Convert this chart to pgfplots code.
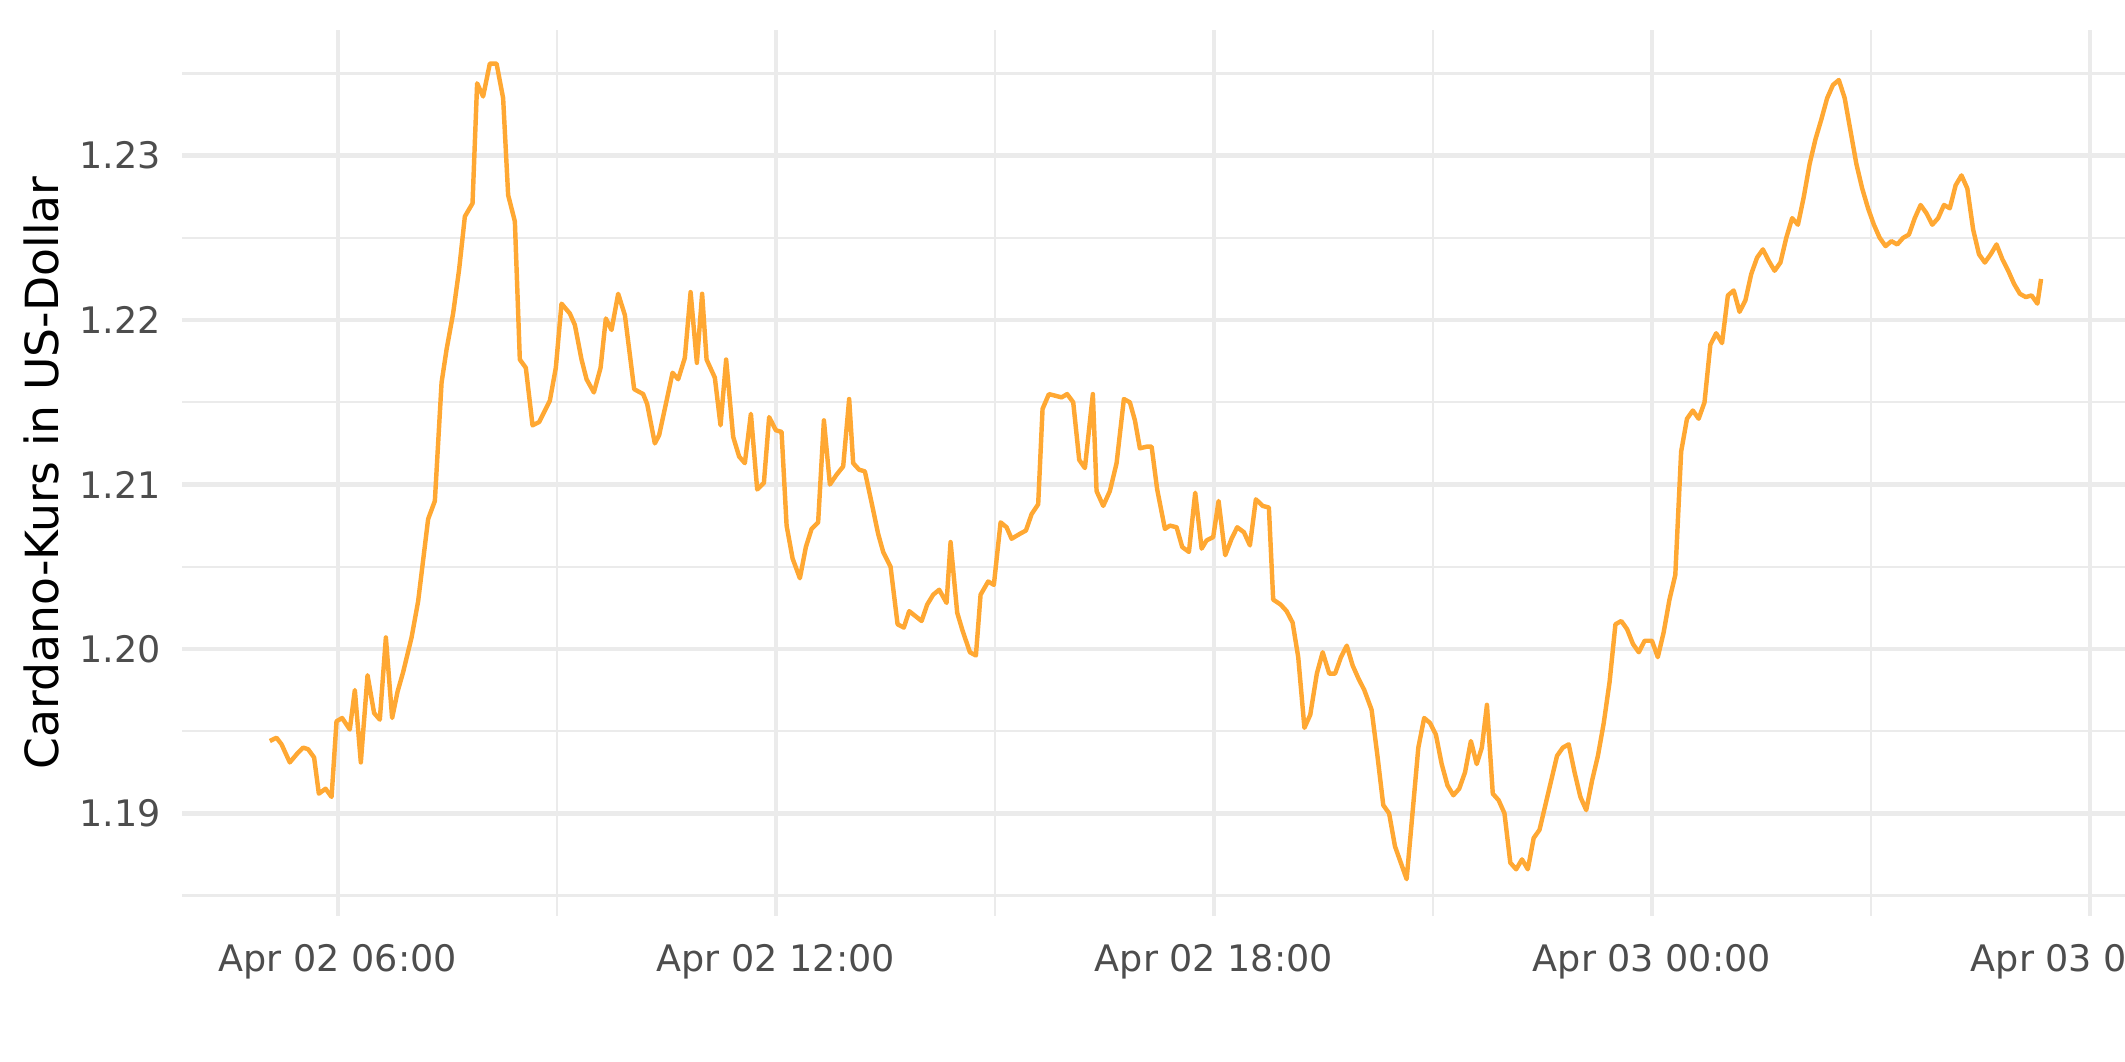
\documentclass[border=0pt]{standalone}
\usepackage{pgfplots}
\pgfplotsset{compat=1.18}
\usepackage{fontspec}
\setmainfont{DejaVu Sans}
\definecolor{linecol}{HTML}{FFA833}
\definecolor{gridcol}{HTML}{EBEBEB}
\definecolor{tickcol}{HTML}{4D4D4D}

% hours since Apr 02 00:00, ADA price in USD
\pgfplotstableread{
t v
5.068 1.1944
5.160 1.1946
5.229 1.1942
5.342 1.1931
5.456 1.1937
5.525 1.1940
5.593 1.1939
5.675 1.1934
5.740 1.1912
5.832 1.1915
5.914 1.1910
5.982 1.1956
6.059 1.1958
6.164 1.1951
6.233 1.1975
6.315 1.1931
6.407 1.1984
6.497 1.1961
6.575 1.1957
6.658 1.2007
6.744 1.1958
6.818 1.1974
6.895 1.1986
7.010 1.2007
7.100 1.2029
7.237 1.2079
7.329 1.2090
7.421 1.2162
7.489 1.2182
7.579 1.2204
7.662 1.2231
7.740 1.2263
7.845 1.2271
7.908 1.2344
7.990 1.2336
8.082 1.2356
8.174 1.2356
8.264 1.2335
8.333 1.2276
8.425 1.2260
8.493 1.2176
8.575 1.2171
8.667 1.2136
8.758 1.2138
8.904 1.2151
8.986 1.2171
9.064 1.2210
9.178 1.2204
9.247 1.2197
9.338 1.2176
9.407 1.2164
9.507 1.2156
9.599 1.2171
9.671 1.2201
9.749 1.2194
9.840 1.2216
9.932 1.2203
10.059 1.2158
10.182 1.2155
10.237 1.2149
10.342 1.2125
10.401 1.2130
10.503 1.2151
10.585 1.2168
10.662 1.2164
10.753 1.2177
10.832 1.2217
10.918 1.2174
10.990 1.2216
11.051 1.2176
11.164 1.2165
11.242 1.2136
11.319 1.2176
11.415 1.2129
11.497 1.2117
11.575 1.2113
11.658 1.2143
11.744 1.2097
11.836 1.2101
11.908 1.2141
12.000 1.2133
12.078 1.2132
12.147 1.2075
12.229 1.2055
12.329 1.2043
12.411 1.2062
12.489 1.2073
12.579 1.2077
12.658 1.2139
12.740 1.2100
12.832 1.2106
12.922 1.2111
13.004 1.2152
13.059 1.2113
13.141 1.2109
13.219 1.2108
13.311 1.2089
13.401 1.2070
13.470 1.2059
13.571 1.2050
13.667 1.2015
13.753 1.2013
13.826 1.2023
13.996 1.2017
14.073 1.2027
14.155 1.2033
14.237 1.2036
14.338 1.2028
14.393 1.2065
14.484 1.2022
14.558 1.2011
14.658 1.1998
14.740 1.1996
14.804 1.2033
14.908 1.2041
14.986 1.2039
15.078 1.2077
15.160 1.2074
15.229 1.2067
15.342 1.2070
15.425 1.2072
15.503 1.2082
15.593 1.2088
15.653 1.2146
15.740 1.2155
15.914 1.2153
15.990 1.2155
16.073 1.2150
16.155 1.2115
16.233 1.2110
16.342 1.2155
16.393 1.2096
16.484 1.2087
16.575 1.2096
16.667 1.2113
16.767 1.2152
16.849 1.2150
16.918 1.2139
16.986 1.2122
17.078 1.2123
17.147 1.2123
17.223 1.2097
17.329 1.2073
17.397 1.2075
17.489 1.2074
17.566 1.2062
17.658 1.2059
17.744 1.2095
17.832 1.2061
17.900 1.2066
17.990 1.2068
18.064 1.2090
18.155 1.2057
18.242 1.2067
18.319 1.2074
18.411 1.2071
18.493 1.2063
18.575 1.2091
18.667 1.2087
18.753 1.2086
18.812 1.2030
18.914 1.2027
18.996 1.2023
19.078 1.2016
19.155 1.1995
19.240 1.1952
19.320 1.1960
19.410 1.1985
19.490 1.1998
19.580 1.1985
19.660 1.1985
19.740 1.1995
19.820 1.2002
19.900 1.1990
19.980 1.1982
20.060 1.1975
20.160 1.1963
20.240 1.1935
20.320 1.1905
20.400 1.1900
20.480 1.1880
20.560 1.1870
20.640 1.1860
20.720 1.1900
20.800 1.1940
20.880 1.1958
20.960 1.1955
21.040 1.1948
21.120 1.1930
21.200 1.1917
21.280 1.1911
21.360 1.1915
21.440 1.1925
21.520 1.1944
21.600 1.1930
21.670 1.1940
21.740 1.1966
21.820 1.1912
21.900 1.1908
21.980 1.1900
22.060 1.1870
22.140 1.1866
22.220 1.1872
22.300 1.1866
22.380 1.1885
22.460 1.1890
22.540 1.1905
22.620 1.1920
22.700 1.1935
22.780 1.1940
22.860 1.1942
22.940 1.1925
23.020 1.1910
23.100 1.1902
23.180 1.1920
23.260 1.1935
23.340 1.1955
23.420 1.1980
23.500 1.2015
23.580 1.2017
23.660 1.2012
23.740 1.2003
23.820 1.1998
23.900 1.2005
24.000 1.2005
24.080 1.1995
24.160 1.2010
24.240 1.2030
24.320 1.2045
24.400 1.2120
24.480 1.2140
24.560 1.2145
24.640 1.2140
24.720 1.2150
24.800 1.2185
24.880 1.2192
24.960 1.2186
25.040 1.2215
25.120 1.2218
25.200 1.2205
25.280 1.2212
25.360 1.2228
25.440 1.2238
25.520 1.2243
25.600 1.2236
25.680 1.2230
25.760 1.2235
25.840 1.2250
25.920 1.2262
26.000 1.2258
26.080 1.2275
26.160 1.2295
26.240 1.2310
26.320 1.2322
26.400 1.2335
26.480 1.2343
26.560 1.2346
26.640 1.2335
26.720 1.2315
26.800 1.2295
26.880 1.2280
26.960 1.2268
27.040 1.2258
27.120 1.2250
27.200 1.2245
27.280 1.2248
27.360 1.2246
27.440 1.2250
27.520 1.2252
27.600 1.2262
27.680 1.2270
27.760 1.2265
27.840 1.2258
27.920 1.2262
28.000 1.2270
28.080 1.2268
28.160 1.2282
28.240 1.2288
28.320 1.2280
28.400 1.2255
28.480 1.2240
28.560 1.2235
28.640 1.2240
28.720 1.2246
28.800 1.2237
28.880 1.2230
28.960 1.2222
29.040 1.2216
29.120 1.2214
29.200 1.2215
29.280 1.2210
29.330 1.2225
}\ada

\begin{document}
\begin{tikzpicture}
\begin{axis}[
  scale only axis,
  width=469.3pt,
  height=213.5pt,
  xmin=3.863, xmax=30.548,
  ymin=1.18375, ymax=1.23765,
  axis line style={draw=none},
  tick style={draw=none},
  xtick={6,12,18,24,30},
  xticklabels={Apr 02 06:00,Apr 02 12:00,Apr 02 18:00,Apr 03 00:00,Apr 03 06:00},
  minor xtick={9,15,21,27},
  ytick={1.19,1.20,1.21,1.22,1.23},
  yticklabels={1.19,1.20,1.21,1.22,1.23},
  minor ytick={1.185,1.195,1.205,1.215,1.225,1.235},
  grid=both,
  major grid style={draw=gridcol, line width=1.07pt},
  minor grid style={draw=gridcol, line width=0.53pt},
  ticklabel style={font=\fontsize{8.8}{10}\selectfont, text=tickcol, inner sep=0pt},
  xticklabel shift=6.5pt,
  yticklabel shift=4.9pt,
  ylabel={Cardano-Kurs in US-Dollar},
  every axis y label/.style={at={(axis description cs:-0.0816,0.5)}, rotate=90, anchor=north, inner sep=0pt, font=\fontsize{11}{13}\selectfont},
]
\addplot[linecol, line width=1.07pt, line join=round, mark=none] table[x=t, y=v] {\ada};
\end{axis}
\pgfresetboundingbox
\path (current axis.south west) ++(-43.8pt,-35.1pt) rectangle ++(511.9pt,255.8pt);
\end{tikzpicture}
\end{document}
